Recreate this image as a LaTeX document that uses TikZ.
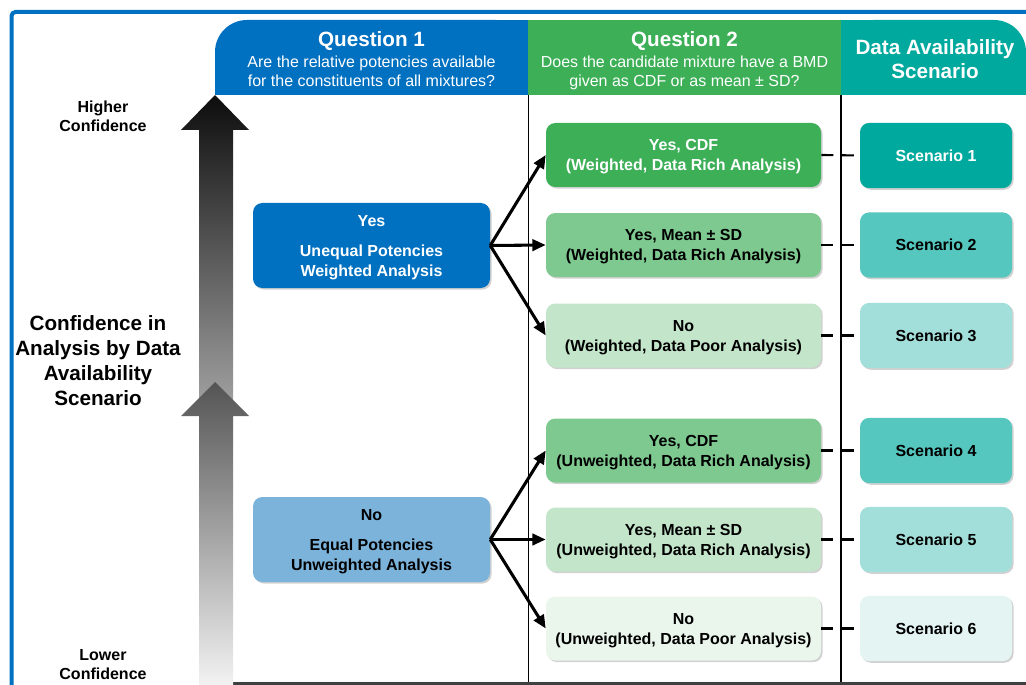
\documentclass[tikz,border=0pt]{standalone}
\usepackage{fontspec}
\setmainfont{Liberation Sans}
\usepackage{tikz}
\usetikzlibrary{arrows.meta, shadows, positioning}
\usepackage{xcolor}
\definecolor{qblue}{HTML}{0070C0}
\definecolor{paleblue}{HTML}{7BB3DB}
\definecolor{qgreen}{HTML}{3CAF57}
\definecolor{green2}{HTML}{7DC98F}
\definecolor{green3}{HTML}{C3E5CA}
\definecolor{green4}{HTML}{EAF5EC}
\definecolor{qteal}{HTML}{00A99D}
\definecolor{teal2}{HTML}{55C7BF}
\definecolor{teal3}{HTML}{A3DFDA}
\definecolor{teal4}{HTML}{E3F4F2}

\tikzset{
  box/.style={rounded corners=7pt, align=center, inner sep=0pt, text depth=-2.4pt,
    font=\fontsize{12}{15}\selectfont\bfseries,
    drop shadow={shadow xshift=1.2pt, shadow yshift=-1.2pt, opacity=0.3, fill=black!60}},
  choice/.style={box, minimum width=177.75pt, minimum height=63.75pt},
  answer/.style={box, minimum width=206.25pt, minimum height=48pt},
  scen/.style={box, minimum width=114pt, minimum height=49pt},
  hdr/.style={align=center, text=white, font=\fontsize{12}{14.25}\selectfont},
  side/.style={align=center, font=\fontsize{12}{14.5}\selectfont\bfseries},
  fan/.style={line width=2.3pt, -{Triangle[length=10pt, width=8.5pt]}},
  link/.style={line width=1.6pt, dash pattern=on 9pt off 6.5pt},
}

\begin{document}
\begin{tikzpicture}[x=0.75pt, y=-0.75pt]
  \useasboundingbox (0,0) rectangle (1026,685);
  \draw[qblue, line width=3pt, rounded corners=3pt] (1026,12) -- (11.5,12) -- (11.5,685);

  % column headers
  \fill[qblue, rounded corners=24pt] (215,20) rectangle (528,95);
  \fill[qblue] (300,20) rectangle (528,95);
  \fill[qblue] (215,60) rectangle (528,95);
  \fill[qgreen] (528,20) rectangle (841,95);
  \fill[qteal, rounded corners=24pt] (841,20) rectangle (1026,95);
  \fill[qteal] (841,20) rectangle (950,95);
  \fill[qteal] (841,60) rectangle (1026,95);

  \node[hdr] (q1) at (371.5,59.5) {{\fontsize{15.5}{18}\selectfont\bfseries Question 1}\\[1.5pt]
    Are the relative potencies available\\for the constituents of all mixtures?};
  \node[hdr] (q2) at (684.5,60.5) {{\fontsize{15.5}{18}\selectfont\bfseries Question 2}\\[1.5pt]
    Does the candidate mixture have a BMD\\given as CDF or as mean ± SD?};
  \node[hdr, font=\fontsize{15.5}{18}\selectfont\bfseries] (q3) at (935,59) {Data Availability\\Scenario};

  \draw[line width=0.9pt] (528.5,95) -- (528.5,683);
  \draw[line width=0.9pt] (841,95) -- (841,683);
  \draw[black!75, line width=1.8pt] (233,683.5) -- (1026,683.5);

  % confidence arrows
  \shade[top color=black!95, bottom color=black!38] (215,95) -- (249,130) -- (233,130) -- (233,400)
    -- (199,400) -- (199,130) -- (181,130) -- cycle;
  \shade[top color=black!67, bottom color=black!5] (215,382) -- (249,416) -- (233,416) -- (233,685)
    -- (199,685) -- (199,416) -- (181,416) -- cycle;

  \node[side] (hi) at (103,116.5) {Higher\\Confidence};
  \node[side] (lo) at (103,664.5) {Lower\\Confidence};
  \node[side, font=\fontsize{15.5}{18.75}\selectfont\bfseries] (conf) at (98,360.5)
    {Confidence in\\Analysis by Data\\Availability\\Scenario};

  % question 1
  \node[choice, fill=qblue, text=white] (yes) at (371.5,245.5) {Yes\\[7.5pt]Unequal Potencies\\Weighted Analysis};
  \node[choice, fill=paleblue] (no) at (371.5,539.5) {No\\[7.5pt]Equal Potencies\\Unweighted Analysis};

  % question 2
  \node[answer, fill=qgreen, text=white] (a1) at (683.5,155) {Yes, CDF\\(Weighted, Data Rich Analysis)};
  \node[answer, fill=green2] (a2) at (683.5,245) {Yes, Mean ± SD\\(Weighted, Data Rich Analysis)};
  \node[answer, fill=green3] (a3) at (683.5,335.5) {No\\(Weighted, Data Poor Analysis)};
  \node[answer, fill=green2] (a4) at (683.5,450.5) {Yes, CDF\\(Unweighted, Data Rich Analysis)};
  \node[answer, fill=green3] (a5) at (683.5,539.5) {Yes, Mean ± SD\\(Unweighted, Data Rich Analysis)};
  \node[answer, fill=green4] (a6) at (683.5,628.5) {No\\(Unweighted, Data Poor Analysis)};

  % scenarios
  \node[scen, fill=qteal, text=white] (s1) at (936,155.5) {Scenario 1};
  \node[scen, fill=teal2] (s2) at (936,245) {Scenario 2};
  \node[scen, fill=teal3] (s3) at (936,335.5) {Scenario 3};
  \node[scen, fill=teal2] (s4) at (936,450.5) {Scenario 4};
  \node[scen, fill=teal3] (s5) at (936,539.5) {Scenario 5};
  \node[scen, fill=teal4] (s6) at (936,628.5) {Scenario 6};

  \foreach \a in {1,2,3} \draw[fan] (yes.east) -- (a\a.west);
  \foreach \a in {4,5,6} \draw[fan] (no.east) -- (a\a.west);
  \foreach \a in {1,...,6} \draw[link] (a\a.east) -- (s\a.west);
\end{tikzpicture}
\end{document}
